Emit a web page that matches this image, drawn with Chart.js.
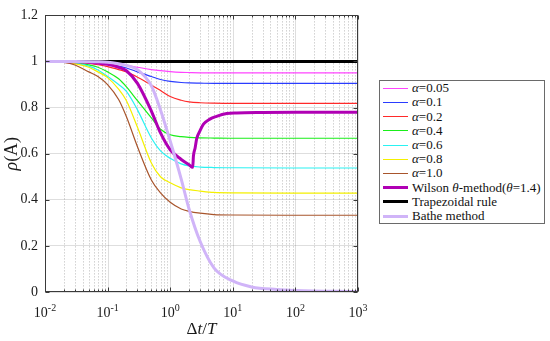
<!DOCTYPE html>
<html>
<head>
<meta charset="utf-8">
<script src="https://cdn.jsdelivr.net/npm/chart.js@4.4.0/dist/chart.umd.min.js"></script>
<style>
  html, body { margin: 0; padding: 0; background: #fff; }
  #wrap { position: relative; width: 550px; height: 341px; overflow: hidden; }
  #chart { position: absolute; left: 0; top: 0; }
  #legend {
    position: absolute; left: 379px; top: 80px; width: 166px; height: 144px;
    box-sizing: border-box; border: 1px solid #6a6a6a; background: #fff;
    font: 13px "Liberation Serif", serif; color: #111;
  }
  .row { position: absolute; left: 0; height: 14.2px; line-height: 14.2px; white-space: nowrap; }
  .swatch { position: absolute; left: 3px; width: 25px; top: 7px; }
  .label { position: absolute; left: 32px; top: 0; }
  i { font-style: italic; }
</style>
</head>
<body>
<div id="wrap">
  <canvas id="chart" width="550" height="341"></canvas>
  <div id="legend"></div>
</div>
<script>
// time step ratio samples (shared by the alpha curves)
const dtT = [0.01, 0.02, 0.03, 0.05, 0.07, 0.1, 0.15, 0.2, 0.3, 0.5, 0.7, 1, 1.5, 2, 3, 5, 10, 100, 1000];

const rhoA005 = [1, 1, 0.999, 0.998, 0.996, 0.993, 0.988, 0.983, 0.975, 0.965, 0.96, 0.956, 0.953, 0.952, 0.951, 0.951, 0.951, 0.951, 0.951];
const rhoA01 = [1, 0.999, 0.998, 0.996, 0.993, 0.988, 0.98, 0.972, 0.955, 0.935, 0.922, 0.914, 0.909, 0.907, 0.906, 0.905, 0.905, 0.905, 0.905];
const rhoA02 = [1, 0.999, 0.997, 0.992, 0.986, 0.978, 0.965, 0.955, 0.932, 0.898, 0.874, 0.848, 0.832, 0.825, 0.821, 0.819, 0.818, 0.818, 0.818];
const rhoA04 = [1, 0.998, 0.995, 0.985, 0.975, 0.955, 0.925, 0.89, 0.83, 0.755, 0.706, 0.682, 0.674, 0.671, 0.669, 0.668, 0.667, 0.667, 0.667];
const rhoA06 = [1, 0.998, 0.994, 0.98, 0.963, 0.935, 0.9, 0.87, 0.79, 0.668, 0.612, 0.58, 0.556, 0.547, 0.542, 0.54, 0.539, 0.538, 0.538];
const rhoA08 = [1, 0.997, 0.99, 0.975, 0.955, 0.93, 0.88, 0.83, 0.715, 0.56, 0.5, 0.474, 0.452, 0.444, 0.438, 0.432, 0.43, 0.429, 0.429];
const rhoA10 = [1, 0.996, 0.985, 0.955, 0.935, 0.9, 0.835, 0.76, 0.63, 0.486, 0.43, 0.389, 0.36, 0.35, 0.342, 0.336, 0.334, 0.333, 0.333];

const wilsonT = [0.01, 0.02, 0.03, 0.05, 0.07, 0.1, 0.15, 0.2, 0.3, 0.5, 0.7, 1, 1.5, 2, 2.29, 2.35, 2.5, 2.65, 3, 3.4, 4.3, 5.5, 8, 11.5, 30, 100, 1000];
const wilsonRho = [1, 1, 0.999, 0.997, 0.993, 0.988, 0.975, 0.96, 0.905, 0.785, 0.69, 0.617, 0.575, 0.552, 0.541, 0.59, 0.625, 0.665, 0.7, 0.728, 0.75, 0.762, 0.774, 0.777, 0.779, 0.78, 0.78];

const trapT = [0.01, 1000];
const trapRho = [1, 1];

const batheT = [0.01, 0.03, 0.07, 0.1, 0.15, 0.2, 0.3, 0.5, 0.7, 1, 1.5, 2, 3, 5, 10, 20, 50, 100, 1000];
const batheRho = [1, 1, 0.999, 0.997, 0.99, 0.983, 0.965, 0.895, 0.79, 0.655, 0.49, 0.36, 0.22, 0.105, 0.048, 0.022, 0.011, 0.007, 0.001];

const xDecades = [0.01, 0.1, 1, 10, 100, 1000];
const minorMultiples = [2, 3, 4, 5, 6, 7, 8, 9];
const yTicks = [0, 0.2, 0.4, 0.6, 0.8, 1, 1.2];

const seriesList = [
    { html: "<i>α</i>=0.05", t: dtT, rho: rhoA005, color: "#ff44ff", width: 1.2 },
    { html: "<i>α</i>=0.1", t: dtT, rho: rhoA01, color: "#2a3cff", width: 1.2 },
    { html: "<i>α</i>=0.2", t: dtT, rho: rhoA02, color: "#ff2a2a", width: 1.2 },
    { html: "<i>α</i>=0.4", t: dtT, rho: rhoA04, color: "#1aee1a", width: 1.2 },
    { html: "<i>α</i>=0.6", t: dtT, rho: rhoA06, color: "#2af2f2", width: 1.2 },
    { html: "<i>α</i>=0.8", t: dtT, rho: rhoA08, color: "#f4f000", width: 1.2 },
    { html: "<i>α</i>=1.0", t: dtT, rho: rhoA10, color: "#a8552c", width: 1.2 },
    { html: "Wilson <i>θ</i>-method(<i>θ</i>=1.4)", t: wilsonT, rho: wilsonRho, color: "#b000b4", width: 3 },
    { html: "Trapezoidal rule", t: trapT, rho: trapRho, color: "#000000", width: 3 },
    { html: "Bathe method", t: batheT, rho: batheRho, color: "#d0b4f8", width: 3 },
];

const FONT = '"Liberation Serif", "Times New Roman", serif';

// MATLAB-like box, grid, ticks and labels
const axesPlugin = {
    id: "matlabAxes",
    beforeDatasetsDraw(chart) {
        const { ctx, chartArea: a, scales: { x } } = chart;
        ctx.save();
        ctx.lineWidth = 1;
        ctx.strokeStyle = "rgba(0,0,0,0.28)";
        ctx.setLineDash([1, 2]);
        xDecades.slice(0, -1).forEach((d) => {
            minorMultiples.forEach((m) => {
                const px = Math.round(x.getPixelForValue(d * m)) + 0.5;
                ctx.beginPath();
                ctx.moveTo(px, a.top);
                ctx.lineTo(px, a.bottom);
                ctx.stroke();
            });
        });
        ctx.setLineDash([]);
        ctx.strokeStyle = "rgba(0,0,0,0.13)";
        xDecades.forEach((d) => {
            const px = Math.round(x.getPixelForValue(d)) + 0.5;
            ctx.beginPath();
            ctx.moveTo(px, a.top);
            ctx.lineTo(px, a.bottom);
            ctx.stroke();
        });
        ctx.restore();
    },
    afterDraw(chart) {
        const { ctx, chartArea: a, scales: { x, y } } = chart;
        ctx.save();
        ctx.strokeStyle = "#3a3a3a";
        ctx.lineWidth = 1;
        const L = Math.round(a.left) + 0.5;
        const R = Math.round(a.right) - 0.5;
        const T = Math.round(a.top) + 0.5;
        const B = Math.round(a.bottom) - 0.5;
        ctx.strokeRect(L, T, R - L, B - T);

        ctx.beginPath();
        xDecades.forEach((d) => {
            const px = Math.round(x.getPixelForValue(d)) + 0.5;
            ctx.moveTo(px, B); ctx.lineTo(px, B - 4);
            ctx.moveTo(px, T); ctx.lineTo(px, T + 4);
        });
        xDecades.slice(0, -1).forEach((d) => {
            minorMultiples.forEach((m) => {
                const px = Math.round(x.getPixelForValue(d * m)) + 0.5;
                ctx.moveTo(px, B); ctx.lineTo(px, B - 2);
                ctx.moveTo(px, T); ctx.lineTo(px, T + 2);
            });
        });
        yTicks.forEach((v) => {
            const py = Math.round(y.getPixelForValue(v)) + 0.5;
            ctx.moveTo(L, py); ctx.lineTo(L + 4, py);
            ctx.moveTo(R, py); ctx.lineTo(R - 4, py);
        });
        ctx.stroke();

        // x tick labels 10^k
        ctx.fillStyle = "#1a1a1a";
        ctx.textBaseline = "alphabetic";
        ctx.textAlign = "left";
        xDecades.forEach((d) => {
            const e = String(Math.round(Math.log10(d)));
            ctx.font = "14px " + FONT;
            const wb = ctx.measureText("10").width;
            ctx.font = "10px " + FONT;
            const we = ctx.measureText(e).width;
            const left = x.getPixelForValue(d) - (wb + we) / 2;
            ctx.font = "14px " + FONT;
            ctx.fillText("10", left, a.bottom + 25);
            ctx.font = "10px " + FONT;
            ctx.fillText(e, left + wb, a.bottom + 19);
        });

        // x title: Δt/T
        const parts = [["Δ", ""], ["t", "italic "], ["/", ""], ["T", "italic "]];
        let total = 0;
        parts.forEach((p) => { ctx.font = p[1] + "17px " + FONT; total += ctx.measureText(p[0]).width; });
        let cx = (a.left + a.right) / 2 - total / 2;
        parts.forEach((p) => {
            ctx.font = p[1] + "17px " + FONT;
            ctx.fillText(p[0], cx, 334);
            cx += ctx.measureText(p[0]).width;
        });

        // y title: ρ(A)
        ctx.translate(17, (a.top + a.bottom) / 2);
        ctx.rotate(-Math.PI / 2);
        const yp = [["ρ", "italic "], ["(A)", ""]];
        total = 0;
        yp.forEach((p) => { ctx.font = p[1] + "18px " + FONT; total += ctx.measureText(p[0]).width; });
        cx = -total / 2;
        yp.forEach((p) => {
            ctx.font = p[1] + "18px " + FONT;
            ctx.fillText(p[0], cx, 0);
            cx += ctx.measureText(p[0]).width;
        });
        ctx.restore();
    },
};

const datasets = seriesList.map((s, i) => ({
    label: s.html.replace(/<[^>]+>/g, ""),
    data: s.t.map((t, k) => ({ x: t, y: s.rho[k] })),
    borderColor: s.color,
    backgroundColor: s.color,
    borderWidth: s.width,
    pointRadius: 0,
    fill: false,
    cubicInterpolationMode: "monotone",
    order: seriesList.length - 1 - i,
}));

new Chart(document.getElementById("chart").getContext("2d"), {
    type: "line",
    data: { datasets },
    options: {
        responsive: false,
        animation: false,
        events: [],
        layout: { padding: { left: 0, right: 192, top: 8, bottom: 0 } },
        plugins: { legend: { display: false }, tooltip: { enabled: false } },
        scales: {
            x: {
                type: "logarithmic",
                min: 0.01,
                max: 1000,
                grid: { display: false },
                border: { display: false },
                ticks: { display: false },
                afterFit: (s) => { s.height = 49; },
            },
            y: {
                min: 0,
                max: 1.2,
                ticks: {
                    stepSize: 0.2,
                    padding: 7,
                    color: "#1a1a1a",
                    font: { family: FONT, size: 14 },
                    callback: (v) => String(Number(v.toFixed(1))),
                },
                grid: { color: "rgba(0,0,0,0.13)", drawTicks: false },
                border: { display: false },
                afterFit: (s) => { s.width = 45; },
            },
        },
    },
    plugins: [axesPlugin],
});

// legend box
const legendEl = document.getElementById("legend");
seriesList.forEach((s, i) => {
    const row = document.createElement("div");
    row.className = "row";
    row.style.top = (0.2 + 14.2 * i) + "px";
    row.style.width = "100%";
    const sw = document.createElement("div");
    sw.className = "swatch";
    const h = s.width > 2 ? 3 : 1;
    sw.style.height = h + "px";
    sw.style.marginTop = (-h / 2) + "px";
    sw.style.background = s.color;
    const lb = document.createElement("span");
    lb.className = "label";
    lb.innerHTML = s.html;
    row.appendChild(sw);
    row.appendChild(lb);
    legendEl.appendChild(row);
});
</script>
</body>
</html>
